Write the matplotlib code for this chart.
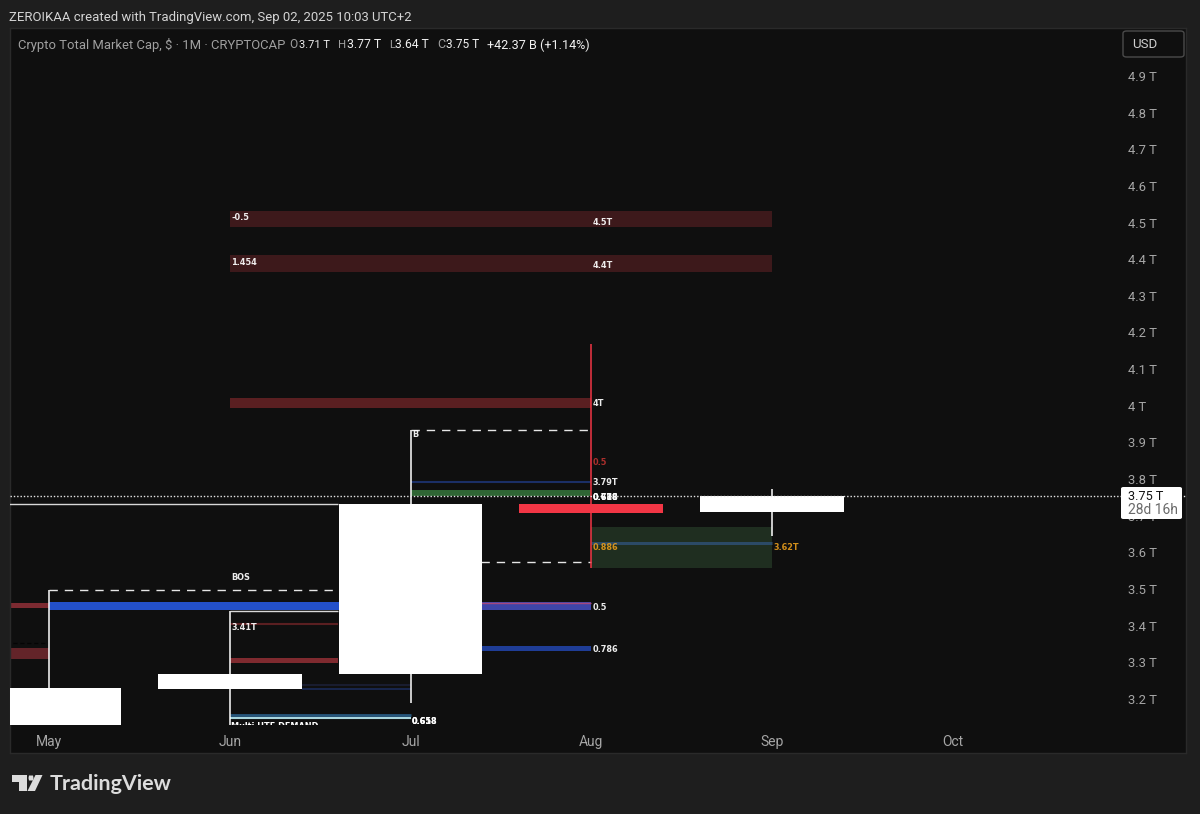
import matplotlib
matplotlib.use("Agg")
import matplotlib.pyplot as plt
from matplotlib.patches import Rectangle, FancyBboxPatch, Polygon

W, H = 1200, 814
BG = "#1e1e1e"
PLOT = "#0f0f0f"
L, T, R, B = 10, 28, 1186, 753

# ---- data (x = months since May 2025, y = price in trillions)
months = ["May", "Jun", "Jul", "Aug", "Sep", "Oct"]
month_pos = [0, 1, 2, 3, 4, 5]
price_ticks = [3.2, 3.3, 3.4, 3.5, 3.6, 3.7, 3.8, 3.9, 4.0, 4.1, 4.2, 4.3, 4.4, 4.5, 4.6, 4.7, 4.8, 4.9]
price_labels = ["3.2 T", "3.3 T", "3.4 T", "3.5 T", "3.6 T", "3.7 T", "3.8 T", "3.9 T", "4 T", "4.1 T",
                "4.2 T", "4.3 T", "4.4 T", "4.5 T", "4.6 T", "4.7 T", "4.8 T", "4.9 T"]

candle_x = [0, 1, 2, 3, 4]
candle_open = [3.13, 3.268, 3.268, 3.732, 3.71]
candle_close = [3.23, 3.227, 3.732, 3.707, 3.753]
candle_high = [3.497, 3.44, 3.934, 4.168, 3.773]
candle_low = [3.13, 3.13, 3.19, 3.557, 3.645]
candle_colors = ["#ffffff", "#ffffff", "#ffffff", "#f23645", "#ffffff"]
last_price = 3.753

# zones: start, end, low, high, colour
zone_start = [1, 1, 1, 3, 2, 0, 2, 2.39, -0.3, -0.3, 1]
zone_end = [4, 4, 3, 4, 3, 2, 3, 3, 0, 0, 1.6]
zone_low = [4.488, 4.365, 3.994, 3.557, 3.755, 3.443, 3.443, 3.33, 3.448, 3.309, 3.297]
zone_high = [4.531, 4.411, 4.021, 3.668, 3.77, 3.466, 3.466, 3.345, 3.463, 3.339, 3.311]
zone_colors = ["#3d191b", "#3d191b", "#5a1f21", "#1f2e20", "#2f6534", "#2350c9", "#3f45a8",
               "#1f3d96", "#7c2a31", "#632429", "#7f2a2f"]

# thin levels: start, end, price, colour, width
level_start = [2, 3, 1, 1.4, 1.4, 1, 1]
level_end = [3, 4, 1.6, 2, 2, 2, 2]
level_price = [3.793, 3.625, 3.406, 3.238, 3.228, 3.156, 3.148]
level_colors = ["#1b2f66", "#2b4a66", "#5a1f21", "#1c1f36", "#1b2a58", "#26567c", "#a9d6de"]
level_widths = [1.5, 2.2, 1.5, 1.2, 1.2, 2, 1.5]

# solid and dashed structure lines: start, end, price
solid_start = [-0.3, 1]
solid_end = [1.6, 1.6]
solid_price = [3.732, 3.44]
dash_start = [0, 2, 2.39]
dash_end = [1.6, 3, 3]
dash_price = [3.497, 3.934, 3.574]

# text on chart: x, y, text, colour
note_x = [1, 3, 1, 3, 3, 2, 3, 3, 3, 3, 3, 3, 4, 3, 3, 1, 1, 2, 2, 2]
note_y = [4.513, 4.5, 4.39, 4.383, 4.005, 3.923, 3.845, 3.79, 3.749, 3.749, 3.749, 3.6145, 3.6145,
          3.45, 3.335, 3.532, 3.394, 3.139, 3.139, 3.139]
note_text = ["-0.5", "4.5T", "1.454", "4.4T", "4T", "B", "0.5", "3.79T", "0.618", "0.786", "0.678", "0.886",
             "3.62T", "0.5", "0.786", "BOS", "3.41T", "0.618", "0.65", "0.658"]
note_colors = ["w", "w", "w", "w", "w", "w", "#b9322f", "w", "w", "w", "w", "#e39a1c", "#e39a1c",
               "w", "w", "w", "w", "w", "w", "w"]


def fx(px):
    return px / W


def fy(py):
    return 1 - py / H


fig = plt.figure(figsize=(W / 100, H / 100), dpi=100, facecolor=BG)
ax = fig.add_axes([fx(L), fy(B), (R - L) / W, (B - T) / H], facecolor=PLOT)
ax.set_xlim(-0.2158, 6.29)
ax.set_ylim(3.0527, 5.0308)


def fitted(x0, x1, y, s, color, family="Roboto", weight="normal", zorder=11):
    """Place text between two pixel columns, sizing it to span them."""
    t = fig.text(fx(x0), fy(y), s, color=color, fontsize=10, va="center", family=family, fontweight=weight,
                 zorder=zorder)
    w = t.get_window_extent(fig.canvas.get_renderer()).width
    t.set_fontsize(10 * (x1 - x0) / w)
    return t


# zones
for s, e, lo, hi, c in zip(zone_start, zone_end, zone_low, zone_high, zone_colors):
    ax.fill_between([s, e], lo, hi, color=c, lw=0, zorder=1)
ax.plot([2, 3], [3.463, 3.463], color="#a5477e", lw=1.0, zorder=1.5, solid_capstyle="butt")
ax.plot([-0.3, 0], [3.353, 3.353], color="#050505", lw=1, ls=(0, (3, 2)), zorder=1.5)

# thin levels
for s, e, p, c, w in zip(level_start, level_end, level_price, level_colors, level_widths):
    ax.plot([s, e], [p, p], color=c, lw=w, zorder=2, solid_capstyle="butt")

# structure lines
for s, e, p in zip(solid_start, solid_end, solid_price):
    ax.plot([s, e], [p, p], color="#d8d8d8", lw=1.0, zorder=3, solid_capstyle="butt")
for s, e, p in zip(dash_start, dash_end, dash_price):
    ax.plot([s, e], [p, p], color="#e6e6e6", lw=1.0, ls=(0, (6, 5)), zorder=3)

# candles
ax.vlines(candle_x, candle_low, candle_high, colors=candle_colors, lw=1.1, zorder=4)
ax.bar(candle_x, [c - o for o, c in zip(candle_open, candle_close)], bottom=candle_open, width=0.795,
       color=candle_colors, lw=0, zorder=5)

# last price line
ax.axhline(last_price, color="#e8e8e8", lw=1.0, ls=(0, (1, 1.4)), zorder=6)

# on-chart notes
for x, y, s, c in zip(note_x, note_y, note_text, note_colors):
    ax.annotate(s, (x, y), xytext=(1, 0), textcoords="offset points", color=c, fontsize=5.9, fontweight="bold",
                va="center", ha="left", zorder=7, family="DejaVu Sans", alpha=0.92)
clip = Rectangle((1, 3.13), 1, 0.1, transform=ax.transData)
demand = ax.annotate("Multi HTF DEMAND", (1, 3.126), xytext=(1, 0), textcoords="offset points", color="w",
                     fontsize=5.9, fontweight="bold", va="center", ha="left", zorder=7, family="DejaVu Sans")
demand.set_clip_path(clip)

# axes
ax.set_xticks(month_pos, months)
ax.yaxis.tick_right()
ax.set_yticks(price_ticks, price_labels)
ax.tick_params(axis="x", length=0, pad=-13.2, labelcolor="#a6a6a6", labelsize=10)
ax.tick_params(axis="y", length=0, pad=-42, labelcolor="#a6a6a6", labelsize=9.4)
for lab in ax.get_xticklabels() + ax.get_yticklabels():
    lab.set_family(["Roboto", "DejaVu Sans"])
for sp in ax.spines.values():
    sp.set_color("#2a2a2a")
    sp.set_linewidth(1)

# last price label
fig.add_artist(FancyBboxPatch((fx(1121), fy(519)), 61 / W, 32 / H, boxstyle="round,pad=0,rounding_size=0.002",
                              transform=fig.transFigure, fc="white", ec="none", zorder=10))
fitted(1128, 1163, 496, "3.75 T", "#131313")
fitted(1128, 1178, 510.5, "28d 16h", "#6a6a6a")

# USD button
fig.add_artist(FancyBboxPatch((fx(1123), fy(57)), 61 / W, 26 / H, boxstyle="round,pad=0,rounding_size=0.003",
                              transform=fig.transFigure, fc=PLOT, ec="#4a4a4a", lw=1, zorder=10))
fitted(1132, 1157, 44, "USD", "#d0d0d0")

# header
fitted(9, 409, 18, "ZEROIKAA created with TradingView.com, Sep 02, 2025 10:03 UTC+2", "#d4d4d4")
head_x0 = [18, 289, 299, 338, 347, 389, 395, 437, 446, 487]
head_x1 = [283, 297, 330, 346, 381, 395, 429, 445, 479, 590]
head_text = ["Crypto Total Market Cap, $ · 1M · CRYPTOCAP", "O", "3.71 T", "H", "3.77 T", "L", "3.64 T", "C",
             "3.75 T", "+42.37 B (+1.14%)"]
head_col = ["#a0a0a0", "#a0a0a0", "#f0f0f0", "#a0a0a0", "#f0f0f0", "#a0a0a0", "#f0f0f0", "#a0a0a0", "#f0f0f0",
            "#f0f0f0"]
for x0, x1, s, c in zip(head_x0, head_x1, head_text, head_col):
    fitted(x0, x1, 45, s, c)

# logo
logo = "#dcdcdc"
fig.add_artist(Polygon([(fx(12), fy(775)), (fx(27), fy(775)), (fx(27), fy(791)), (fx(19), fy(791)), (fx(19), fy(781.5)),
                        (fx(12), fy(781.5))], closed=True, transform=fig.transFigure, fc=logo, ec="none"))
fig.add_artist(Polygon([(fx(35.5), fy(775)), (fx(42.5), fy(775)), (fx(35), fy(791)), (fx(27.5), fy(791))], closed=True,
                       transform=fig.transFigure, fc=logo, ec="none"))
fig.add_artist(Polygon([(fx(29), fy(775.5)), (fx(33), fy(775.5)), (fx(33.5), fy(778)), (fx(33), fy(780.5)),
                        (fx(29), fy(780.5)), (fx(28.5), fy(778))], closed=True, transform=fig.transFigure, fc=logo,
                       ec="none"))
fitted(50, 172, 783.5, "TradingView", logo, family="Lato", weight="bold")

fig.savefig("out.png", dpi=100, facecolor=BG)
